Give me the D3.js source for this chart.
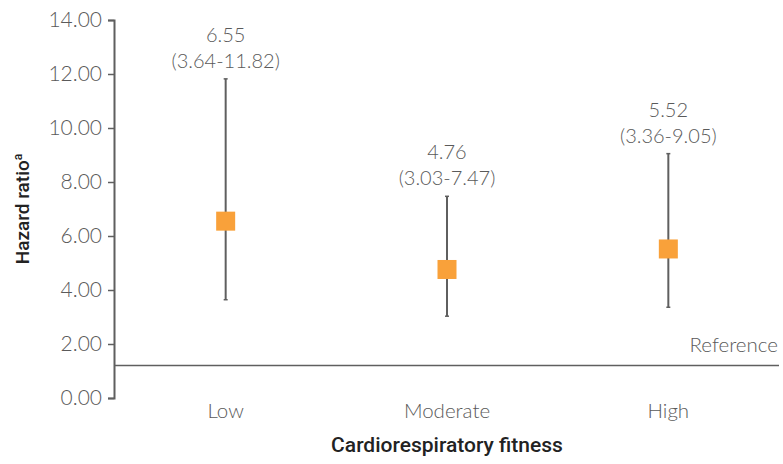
<!DOCTYPE html>
<html>
<head>
<meta charset="utf-8">
<script src="https://cdn.jsdelivr.net/npm/d3@7"></script>
<style>
  body { margin: 0; background: #fff; }
  text { font-family: Lato, "Open Sans", sans-serif; }
</style>
</head>
<body>
<div id="chart"></div>
<script>
// data
const categories = ["Low", "Moderate", "High"];
const hr = [6.55, 4.76, 5.52];
const lower = [3.64, 3.03, 3.36];
const upper = [11.82, 7.47, 9.05];
const yTicks = [0, 2, 4, 6, 8, 10, 12, 14];
const refValue = 1.2;

const W = 783, H = 464;
const svg = d3.select("#chart").append("svg")
  .attr("width", W)
  .attr("height", H);

const x = d3.scalePoint()
  .domain(categories)
  .range([115, 779])
  .padding(0.5);

const y = d3.scaleLinear()
  .domain([0, 14])
  .range([398, 20]);

const grey = "#5f5f5f";
const textGrey = "#5a5a5a";

// y axis
const yAxis = svg.append("g")
  .attr("transform", "translate(114,0)")
  .call(d3.axisLeft(y).tickValues(yTicks).tickSize(6).tickPadding(6).tickFormat(d3.format(".2f")));
yAxis.select(".domain").attr("stroke", grey).attr("stroke-width", 2);
yAxis.selectAll(".tick line").attr("stroke", grey).attr("stroke-width", 1.5);
yAxis.selectAll(".tick text")
  .attr("fill", textGrey)
  .style("font-size", "21px")
  .style("font-weight", 300);

// reference line
svg.append("line")
  .attr("x1", 114).attr("x2", 779)
  .attr("y1", y(refValue)).attr("y2", y(refValue))
  .attr("stroke", grey).attr("stroke-width", 1.5);

svg.append("text")
  .attr("x", 778)
  .attr("y", y(refValue) - 14)
  .attr("text-anchor", "end")
  .attr("fill", textGrey)
  .style("font-size", "20.5px")
  .style("font-weight", 300)
  .text("Reference");

// error bars
const rows = categories.map((c, i) => ({ c, hr: hr[i], lo: lower[i], hi: upper[i] }));

svg.selectAll(".err")
  .data(rows)
  .enter()
  .append("line")
  .attr("class", "err")
  .attr("x1", d => x(d.c)).attr("x2", d => x(d.c))
  .attr("y1", d => y(d.lo)).attr("y2", d => y(d.hi))
  .attr("stroke", grey)
  .attr("stroke-width", 2);

// small caps
["lo", "hi"].forEach(k => {
  svg.selectAll(".cap-" + k)
    .data(rows)
    .enter()
    .append("line")
    .attr("x1", d => x(d.c) - 2).attr("x2", d => x(d.c) + 2)
    .attr("y1", d => y(d[k])).attr("y2", d => y(d[k]))
    .attr("stroke", grey)
    .attr("stroke-width", 1.5);
});

// markers
const sq = 19;
svg.selectAll(".pt")
  .data(rows)
  .enter()
  .append("rect")
  .attr("class", "pt")
  .attr("x", d => x(d.c) - sq / 2)
  .attr("y", d => y(d.hr) - sq / 2)
  .attr("width", sq)
  .attr("height", sq)
  .attr("fill", "#f9a13a");

// value labels
svg.selectAll(".val")
  .data(rows)
  .enter()
  .append("text")
  .attr("x", d => x(d.c))
  .attr("y", d => y(d.hi) - 37)
  .attr("text-anchor", "middle")
  .attr("fill", textGrey)
  .style("font-size", "20px")
  .style("font-weight", 300)
  .text(d => d.hr.toFixed(2));

svg.selectAll(".ci")
  .data(rows)
  .enter()
  .append("text")
  .attr("x", d => x(d.c))
  .attr("y", d => y(d.hi) - 11)
  .attr("text-anchor", "middle")
  .attr("fill", textGrey)
  .style("font-size", "20px")
  .style("font-weight", 300)
  .text(d => `(${d.lo.toFixed(2)}-${d.hi.toFixed(2)})`);

// category labels
svg.selectAll(".cat")
  .data(categories)
  .enter()
  .append("text")
  .attr("x", d => x(d))
  .attr("y", 418)
  .attr("text-anchor", "middle")
  .attr("fill", textGrey)
  .style("font-size", "20.5px")
  .style("font-weight", 300)
  .text(d => d);

// axis titles
svg.append("text")
  .attr("x", 447)
  .attr("y", 452)
  .attr("text-anchor", "middle")
  .attr("fill", "#222")
  .style("font-family", "Roboto, sans-serif")
  .style("font-size", "21px")
  .style("font-weight", 500)
  .text("Cardiorespiratory fitness");

const yt = svg.append("text")
  .attr("transform", "translate(29,209) rotate(-90)")
  .attr("text-anchor", "middle")
  .attr("fill", "#222")
  .style("font-family", "Roboto, sans-serif")
  .style("font-size", "19px")
  .style("font-weight", 500);
yt.append("tspan").text("Hazard ratio");
yt.append("tspan")
  .attr("dy", -7)
  .style("font-size", "12px")
  .text("a");
</script>
</body>
</html>
